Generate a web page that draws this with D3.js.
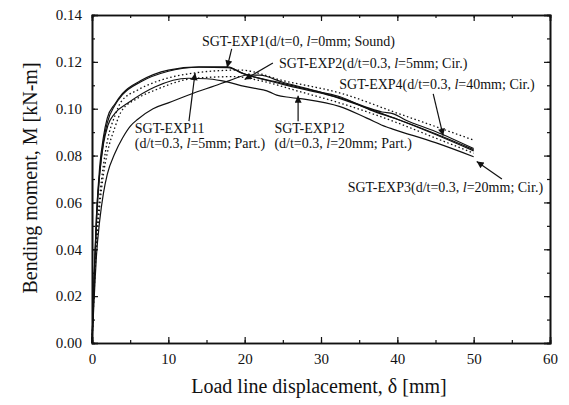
<!DOCTYPE html>
<html>
<head>
<script src="https://d3js.org/d3.v7.min.js"></script>
<style>
  body { margin: 0; background: white; }
  text { font-family: "Liberation Serif", "Times New Roman", serif; fill: #111; }
</style>
</head>
<body>
<svg id="chart" width="569" height="405"></svg>
<script>
// displacement (mm) / moment (kN-m)
const exp1 = [[0,0],[0.3,0.03],[0.6,0.055],[1,0.075],[1.5,0.088],[2,0.096],[3,0.102],[4,0.1065],[6.4,0.112],[10,0.1165],[14,0.1179],[17.8,0.1179],[19.4,0.1155],[25,0.1108],[30,0.107],[32.5,0.1051],[36.4,0.0995],[40,0.0955],[45,0.0893],[50,0.0825]];
const exp4 = [[0,0],[0.3,0.028],[0.6,0.052],[1,0.072],[1.5,0.086],[2,0.094],[3,0.1015],[4,0.106],[6.4,0.1115],[10,0.116],[14,0.1177],[17.8,0.1175],[20,0.1148],[25,0.1104],[30,0.1066],[32.5,0.1046],[36,0.1006],[38,0.0986],[39.5,0.0978],[41,0.0953],[45,0.0903],[50,0.083]];
const exp2 = [[0,0],[0.5,0.04],[1,0.062],[1.5,0.076],[2,0.086],[3,0.097],[3.8,0.1029],[6,0.108],[8.3,0.1114],[13.5,0.1153],[17,0.1163],[19.4,0.1165],[25,0.112],[32.5,0.1067],[40,0.0981],[45,0.0924],[50,0.0866]];
const exp3 = [[0,0],[0.5,0.036],[1,0.058],[1.5,0.072],[2,0.081],[3,0.092],[3.8,0.0986],[6,0.1045],[8.3,0.108],[13.5,0.113],[18.7,0.1137],[22,0.112],[27,0.1075],[32.5,0.1024],[40,0.094],[45,0.0875],[50,0.081]];
const exp11 = [[0,0],[0.3,0.02],[0.6,0.038],[1,0.052],[1.5,0.064],[2,0.072],[3,0.081],[4,0.0875],[5,0.0925],[6,0.0955],[8,0.1],[10,0.1025],[13,0.1063],[16.1,0.1098],[18,0.112],[20.4,0.1144],[22,0.1143],[25,0.1113],[30,0.107],[35,0.1015],[40,0.0955],[45,0.089],[50,0.082]];
const exp12 = [[0,0],[0.3,0.03],[0.6,0.055],[1,0.072],[1.5,0.085],[2.1,0.093],[3,0.098],[4.7,0.1024],[8.3,0.1094],[12.6,0.113],[15,0.1128],[16.9,0.112],[20,0.1095],[23.3,0.1071],[24.2,0.1058],[26,0.1048],[28,0.104],[32.5,0.1009],[36,0.096],[38.6,0.0922],[39.5,0.0912],[45,0.0855],[50,0.0795]];

const seriesList = [
  {name: "EXP1", pts: exp1, dotted: false},
  {name: "EXP2", pts: exp2, dotted: true},
  {name: "EXP3", pts: exp3, dotted: true},
  {name: "EXP4", pts: exp4, dotted: false},
  {name: "EXP11", pts: exp11, dotted: false},
  {name: "EXP12", pts: exp12, dotted: false}
];

const xTicks = [0,10,20,30,40,50,60];
const yTicks = [0,0.02,0.04,0.06,0.08,0.10,0.12,0.14];

// label text lines and arrows, in data units
const notes = [
  {lines: [["SGT-EXP1(d/t=0, ","l","=0mm; Sound)"]], at: [14.4,0.1268], from: [18.3,0.1255], to: [17.7,0.1176]},
  {lines: [["SGT-EXP2(d/t=0.3, ","l","=5mm; Cir.)"]], at: [24.5,0.1174], from: [23.7,0.1195], to: [20.0,0.1125]},
  {lines: [["SGT-EXP4(d/t=0.3, ","l","=40mm; Cir.)"]], at: [32.4,0.1084], from: [44.7,0.1063], to: [46.0,0.0885]},
  {lines: [["SGT-EXP11","",""],["(d/t=0.3, ","l","=5mm; Part.)"]], at: [5.6,0.0896], from: [12.7,0.0947], to: [13.5,0.1152]},
  {lines: [["SGT-EXP12","",""],["(d/t=0.3, ","l","=20mm; Part.)"]], at: [23.9,0.0896], from: [27.0,0.0947], to: [27.0,0.1055]},
  {lines: [["SGT-EXP3(d/t=0.3, ","l","=20mm; Cir.)"]], at: [33.5,0.0644], from: [53.7,0.07], to: [50.4,0.0775]}
];

const svg = d3.select("#chart");
const m = {left: 92, top: 15, right: 19, bottom: 62};
const W = 569 - m.left - m.right, H = 405 - m.top - m.bottom;
const x = d3.scaleLinear([0, 60], [0, W]);
const y = d3.scaleLinear([0, 0.14], [H, 0]);
const g = svg.append("g").attr("transform", `translate(${m.left},${m.top})`);

// axes with inward ticks, mirrored on top/right
const xMinor = d3.range(0, 61, 5), yMinor = d3.range(0, 0.1401, 0.01);
g.append("g").attr("transform", `translate(0,${H})`)
  .call(d3.axisBottom(x).tickValues(xTicks).tickSize(-6).tickPadding(10).tickFormat(d3.format("d")));
g.append("g").attr("transform", `translate(0,${H})`)
  .call(d3.axisBottom(x).tickValues(xMinor).tickSize(-3).tickFormat(""));
g.append("g").call(d3.axisTop(x).tickValues(xTicks).tickSize(-6).tickFormat(""));
g.append("g").call(d3.axisTop(x).tickValues(xMinor).tickSize(-3).tickFormat(""));
g.append("g")
  .call(d3.axisLeft(y).tickValues(yTicks).tickSize(-6).tickPadding(10).tickFormat(d3.format(".2f")));
g.append("g").call(d3.axisLeft(y).tickValues(yMinor).tickSize(-3).tickFormat(""));
g.append("g").attr("transform", `translate(${W},0)`)
  .call(d3.axisRight(y).tickValues(yTicks).tickSize(-6).tickFormat(""));
g.append("g").attr("transform", `translate(${W},0)`)
  .call(d3.axisRight(y).tickValues(yMinor).tickSize(-3).tickFormat(""));
g.selectAll(".domain").attr("stroke", "#111").attr("stroke-width", 1.6);
g.selectAll(".tick line").attr("stroke", "#111").attr("stroke-width", 1.2);
g.selectAll(".tick text").attr("font-size", 15).attr("font-family", "Liberation Serif").attr("fill", "#111");

// curves
const line = d3.line().x(d => x(d[0])).y(d => y(d[1])).curve(d3.curveMonotoneX);
g.selectAll("path.curve").data(seriesList).join("path")
  .attr("class", "curve")
  .attr("d", d => line(d.pts))
  .attr("fill", "none")
  .attr("stroke", "#111")
  .attr("stroke-width", d => d.dotted ? 1.3 : 1.2)
  .attr("stroke-dasharray", d => d.dotted ? "1.5,2.5" : null);

// arrows
svg.append("defs").append("marker")
  .attr("id", "head").attr("viewBox", "0 0 10 10").attr("refX", 10).attr("refY", 5)
  .attr("markerWidth", 9).attr("markerHeight", 7).attr("orient", "auto")
  .attr("markerUnits", "userSpaceOnUse")
  .append("path").attr("d", "M0,0L10,5L0,10z").attr("fill", "#111");

g.selectAll("line.arrow").data(notes).join("line")
  .attr("class", "arrow")
  .attr("x1", d => x(d.from[0])).attr("y1", d => y(d.from[1]))
  .attr("x2", d => x(d.to[0])).attr("y2", d => y(d.to[1]))
  .attr("stroke", "#111").attr("stroke-width", 1.2)
  .attr("marker-end", "url(#head)");

notes.forEach(n => {
  n.lines.forEach((ln, i) => {
    const t = g.append("text")
      .attr("x", x(n.at[0])).attr("y", y(n.at[1]) + i * 15)
      .attr("font-size", 14);
    t.append("tspan").text(ln[0]);
    if (ln[1]) t.append("tspan").attr("font-style", "italic").text(ln[1]);
    if (ln[2]) t.append("tspan").text(ln[2]);
  });
});

// axis titles
svg.append("text")
  .attr("x", m.left + W / 2 - 2).attr("y", 393)
  .attr("text-anchor", "middle").attr("font-size", 20)
  .text("Load line displacement, \u03b4 [mm]");
svg.append("text")
  .attr("transform", `translate(37,${m.top + H / 2 - 1}) rotate(-90)`)
  .attr("text-anchor", "middle").attr("font-size", 20)
  .text("Bending moment, M [kN-m]");
</script>
</body>
</html>
